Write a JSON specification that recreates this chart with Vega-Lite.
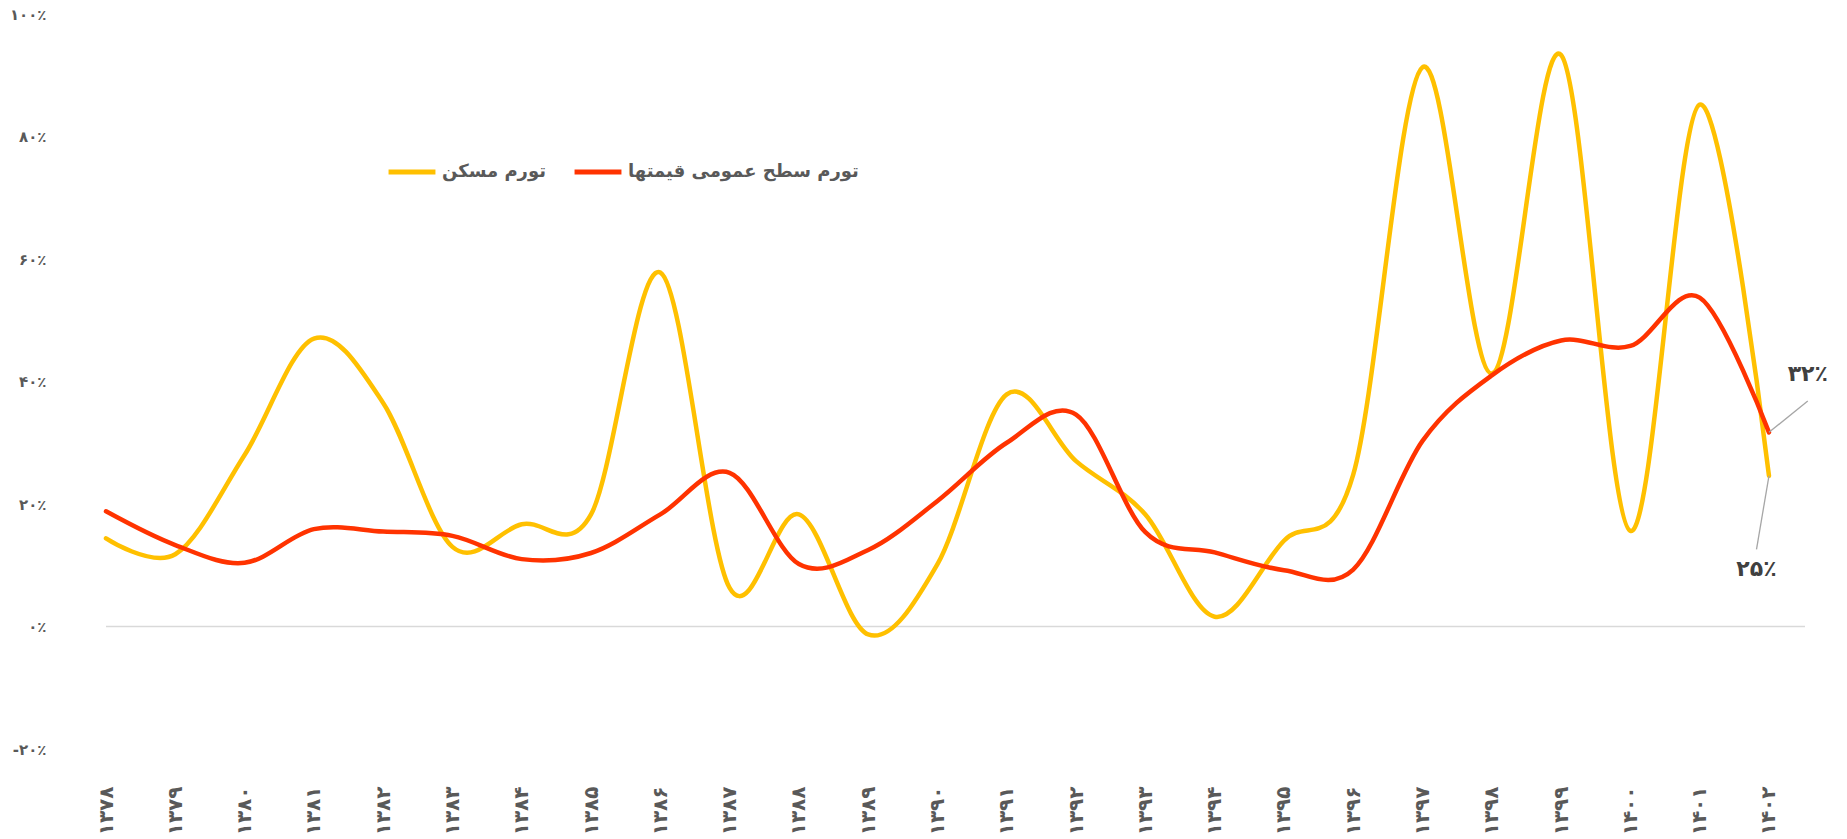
{
  "$schema": "https://vega.github.io/schema/vega-lite/v6.json",
  "width": 1699,
  "height": 735,
  "autosize": {"type": "none"},
  "padding": {"left": 106, "top": 14, "right": 42, "bottom": 90},
  "background": "white",
  "config": {
    "view": {"stroke": null},
    "font": "DejaVu Sans"
  },
  "datasets": {
    "series": [
      {"year": 1378, "series": "تورم مسکن", "value": 14.4},
      {"year": 1379, "series": "تورم مسکن", "value": 11.8},
      {"year": 1380, "series": "تورم مسکن", "value": 28},
      {"year": 1381, "series": "تورم مسکن", "value": 47},
      {"year": 1382, "series": "تورم مسکن", "value": 36.5},
      {"year": 1383, "series": "تورم مسکن", "value": 13.0},
      {"year": 1384, "series": "تورم مسکن", "value": 16.7},
      {"year": 1385, "series": "تورم مسکن", "value": 18.3},
      {"year": 1386, "series": "تورم مسکن", "value": 57.8},
      {"year": 1387, "series": "تورم مسکن", "value": 6.3},
      {"year": 1388, "series": "تورم مسکن", "value": 18.3},
      {"year": 1389, "series": "تورم مسکن", "value": -1.3},
      {"year": 1390, "series": "تورم مسکن", "value": 10.2},
      {"year": 1391, "series": "تورم مسکن", "value": 37.9},
      {"year": 1392, "series": "تورم مسکن", "value": 27},
      {"year": 1393, "series": "تورم مسکن", "value": 18.3},
      {"year": 1394, "series": "تورم مسکن", "value": 1.6},
      {"year": 1395, "series": "تورم مسکن", "value": 14},
      {"year": 1396, "series": "تورم مسکن", "value": 24.8},
      {"year": 1397, "series": "تورم مسکن", "value": 91.3},
      {"year": 1398, "series": "تورم مسکن", "value": 41.3},
      {"year": 1399, "series": "تورم مسکن", "value": 93.3},
      {"year": 1400, "series": "تورم مسکن", "value": 15.6},
      {"year": 1401, "series": "تورم مسکن", "value": 85.2},
      {"year": 1402, "series": "تورم مسکن", "value": 24.6},
      {"year": 1378, "series": "تورم سطح عمومی قیمتها", "value": 18.8},
      {"year": 1379, "series": "تورم سطح عمومی قیمتها", "value": 13.3},
      {"year": 1380, "series": "تورم سطح عمومی قیمتها", "value": 10.4},
      {"year": 1381, "series": "تورم سطح عمومی قیمتها", "value": 15.9},
      {"year": 1382, "series": "تورم سطح عمومی قیمتها", "value": 15.5},
      {"year": 1383, "series": "تورم سطح عمومی قیمتها", "value": 14.8},
      {"year": 1384, "series": "تورم سطح عمومی قیمتها", "value": 11},
      {"year": 1385, "series": "تورم سطح عمومی قیمتها", "value": 12},
      {"year": 1386, "series": "تورم سطح عمومی قیمتها", "value": 18.3},
      {"year": 1387, "series": "تورم سطح عمومی قیمتها", "value": 25.1},
      {"year": 1388, "series": "تورم سطح عمومی قیمتها", "value": 10.2},
      {"year": 1389, "series": "تورم سطح عمومی قیمتها", "value": 12.5},
      {"year": 1390, "series": "تورم سطح عمومی قیمتها", "value": 20.5},
      {"year": 1391, "series": "تورم سطح عمومی قیمتها", "value": 30},
      {"year": 1392, "series": "تورم سطح عمومی قیمتها", "value": 34.6},
      {"year": 1393, "series": "تورم سطح عمومی قیمتها", "value": 15.4},
      {"year": 1394, "series": "تورم سطح عمومی قیمتها", "value": 12.1},
      {"year": 1395, "series": "تورم سطح عمومی قیمتها", "value": 9.2},
      {"year": 1396, "series": "تورم سطح عمومی قیمتها", "value": 9.3},
      {"year": 1397, "series": "تورم سطح عمومی قیمتها", "value": 30.3},
      {"year": 1398, "series": "تورم سطح عمومی قیمتها", "value": 41},
      {"year": 1399, "series": "تورم سطح عمومی قیمتها", "value": 46.7},
      {"year": 1400, "series": "تورم سطح عمومی قیمتها", "value": 45.8},
      {"year": 1401, "series": "تورم سطح عمومی قیمتها", "value": 53.7},
      {"year": 1402, "series": "تورم سطح عمومی قیمتها", "value": 31.7}
    ],
    "labels": [
      {"label": "۳۲٪", "year": 1402.56, "value": 41.2},
      {"label": "۲۵٪", "year": 1401.82, "value": 9.4}
    ],
    "leaders": [
      {"year": 1402, "value": 31.7, "year2": 1402.56, "value2": 36.8},
      {"year": 1402, "value": 24.6, "year2": 1401.82, "value2": 12.6}
    ],
    "zero": [{"value": 0}]
  },
  "layer": [
    {
      "data": {"name": "zero"},
      "mark": {"type": "rule", "color": "#d9d9d9", "strokeWidth": 1.5},
      "encoding": {
        "y": {
          "field": "value", "type": "quantitative",
          "scale": {"domain": [-20, 100], "nice": false, "zero": false},
          "axis": {
            "values": [-20, 0, 20, 40, 60, 80, 100],
            "domain": false, "ticks": false, "grid": false, "title": null,
            "labelPadding": 60, "labelFontSize": 15, "labelFontWeight": "bold", "labelColor": "#595959",
            "labelExpr": "replace(replace(replace(replace(replace(replace(replace(replace(replace(replace(datum.value+'', /0/g, '۰'), /1/g, '۱'), /2/g, '۲'), /3/g, '۳'), /4/g, '۴'), /5/g, '۵'), /6/g, '۶'), /7/g, '۷'), /8/g, '۸'), /9/g, '۹') + '٪'"
          }
        }
      }
    },
    {
      "data": {"name": "series"},
      "transform": [{"filter": "datum.series === 'تورم مسکن'"}],
      "mark": {"type": "line", "interpolate": "cardinal", "tension": 0, "strokeWidth": 4.5, "strokeCap": "round"},
      "encoding": {
        "x": {
          "field": "year", "type": "quantitative",
          "scale": {"domain": [1378, 1402.52], "nice": false, "zero": false},
          "axis": {
            "values": [1378,1379,1380,1381,1382,1383,1384,1385,1386,1387,1388,1389,1390,1391,1392,1393,1394,1395,1396,1397,1398,1399,1400,1401,1402],
            "domain": false, "ticks": false, "grid": false, "title": null,
            "labelAngle": 270, "labelPadding": 37, "labelFontSize": 20, "labelFontWeight": "bold", "labelColor": "#595959",
            "labelExpr": "replace(replace(replace(replace(replace(replace(replace(replace(replace(replace(datum.value+'', /0/g, '۰'), /1/g, '۱'), /2/g, '۲'), /3/g, '۳'), /4/g, '۴'), /5/g, '۵'), /6/g, '۶'), /7/g, '۷'), /8/g, '۸'), /9/g, '۹')"
          }
        },
        "y": {"field": "value", "type": "quantitative"},
        "color": {
          "field": "series", "type": "nominal",
          "scale": {"domain": ["تورم مسکن", "تورم سطح عمومی قیمتها"], "range": ["#FFC000", "#FF3300"]},
          "legend": {
            "title": null, "orient": "none", "direction": "horizontal",
            "legendX": 280, "legendY": 132,
            "symbolType": "stroke", "symbolSize": 2200, "symbolStrokeWidth": 5,
            "labelFontSize": 18, "labelFontWeight": "bold", "labelColor": "#595959",
            "labelOffset": 4, "columnPadding": 18, "labelLimit": 400
          }
        }
      }
    },
    {
      "data": {"name": "series"},
      "transform": [{"filter": "datum.series !== 'تورم مسکن'"}],
      "mark": {"type": "line", "interpolate": "cardinal", "tension": 0, "strokeWidth": 4.5, "strokeCap": "round"},
      "encoding": {
        "x": {"field": "year", "type": "quantitative"},
        "y": {"field": "value", "type": "quantitative"},
        "color": {"field": "series", "type": "nominal"}
      }
    },
    {
      "data": {"name": "leaders"},
      "mark": {"type": "rule", "color": "#a6a6a6", "strokeWidth": 1.3},
      "encoding": {
        "x": {"field": "year", "type": "quantitative"},
        "y": {"field": "value", "type": "quantitative"},
        "x2": {"field": "year2"},
        "y2": {"field": "value2"}
      }
    },
    {
      "data": {"name": "labels"},
      "mark": {"type": "text", "fontSize": 22, "fontWeight": "bold", "color": "#404040", "align": "center", "baseline": "middle"},
      "encoding": {
        "x": {"field": "year", "type": "quantitative"},
        "y": {"field": "value", "type": "quantitative"},
        "text": {"field": "label"}
      }
    }
  ]
}
